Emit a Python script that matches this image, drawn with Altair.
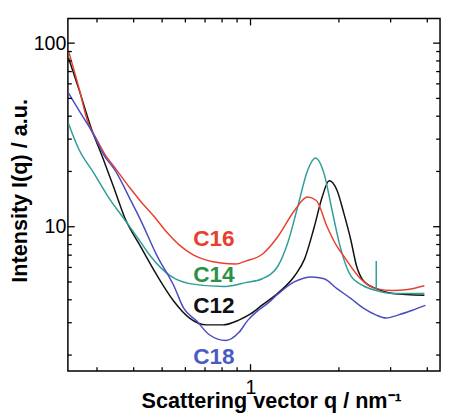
import altair as alt
import pandas as pd

# ---- data (q in nm^-1, intensity in a.u.) ----
c16_q = [0.240, 0.261, 0.279, 0.298, 0.319, 0.345, 0.387, 0.425, 0.469, 0.520, 0.574, 0.640, 0.707,
         0.794, 0.891, 0.962, 1.097, 1.240, 1.414, 1.563, 1.675, 1.823, 1.970, 2.077, 2.370, 2.680,
         3.052, 3.43, 3.91]
c16_i = [90.6, 56.2, 37.3, 30.3, 24.8, 21.0, 16.4, 13.6, 11.4, 9.29, 7.91, 7.00, 6.58,
         6.34, 6.26, 6.50, 7.08, 8.85, 12.3, 14.5, 13.9, 10.0, 7.81, 6.92, 5.21, 4.60,
         4.49, 4.55, 4.77]

c14_q = [0.240, 0.260, 0.292, 0.327, 0.373, 0.412, 0.456, 0.532, 0.620, 0.806, 0.962, 1.097, 1.240,
         1.340, 1.447, 1.563, 1.663, 1.781, 1.895, 2.031, 2.194, 2.423, 2.680, 3.052, 3.91]
c14_i = [36.4, 26.5, 19.7, 14.6, 10.9, 8.73, 6.92, 5.41, 4.90, 4.72, 4.96, 5.21, 6.11,
         8.20, 12.8, 20.2, 23.7, 19.4, 12.3, 7.53, 5.41, 4.77, 4.49, 4.33, 4.33]
spike_q = [2.68]
spike_lo = [4.49]
spike_hi = [6.50]

c12_q = [0.240, 0.261, 0.287, 0.315, 0.343, 0.373, 0.422, 0.481, 0.548, 0.620, 0.707, 0.806, 0.912,
         1.0, 1.097, 1.240, 1.414, 1.527, 1.649, 1.754, 1.852, 1.970, 2.077, 2.194, 2.297, 2.423,
         2.680, 3.052, 3.91]
c12_i = [83.1, 55.4, 34.3, 23.4, 16.2, 11.2, 7.81, 5.41, 3.93, 3.18, 2.92, 2.92, 3.10,
         3.35, 3.75, 4.35, 5.41, 6.66, 10.0, 14.5, 17.8, 15.8, 11.9, 8.52, 6.11, 5.08,
         4.60, 4.33, 4.23]

c18_q = [0.240, 0.262, 0.287, 0.319, 0.345, 0.391, 0.422, 0.481, 0.548, 0.592, 0.655, 0.724, 0.825,
         0.912, 0.980, 1.050, 1.149, 1.240, 1.414, 1.612, 1.781, 1.970, 2.194, 2.423, 2.680, 2.894,
         3.176, 3.56, 3.94]
c18_i = [53.4, 42.3, 33.4, 24.1, 20.4, 13.9, 10.9, 6.92, 4.77, 3.60, 3.07, 2.58, 2.40,
         2.65, 3.10, 3.45, 3.85, 4.30, 5.02, 5.33, 5.21, 4.60, 4.07, 3.60, 3.30, 3.18,
         3.30, 3.51, 3.73]

series_names = ["C12", "C14", "C16", "C18"]
series_colors = ["#111111", "#2f9d98", "#e8402e", "#4a4cbf"]

label_text = ["C16", "C14", "C12", "C18"]
label_q = [0.75, 0.75, 0.75, 0.75]
label_i = [7.81, 5.02, 3.38, 1.78]
label_colors = ["#e8402e", "#2b9145", "#111111", "#4a5cc4"]

x_label_ticks = [1]
x_major_ticks = [1]
x_minor_ticks = [0.3, 0.4, 0.5, 0.6, 0.7, 0.8, 0.9, 2, 3, 4]
y_label_ticks = [10, 100]
y_major_ticks = [10, 100]
y_minor_ticks = [2, 3, 4, 5, 6, 7, 8, 9, 20, 30, 40, 50, 60, 70, 80, 90]

rows = []
for name, qs, vs in [("C12", c12_q, c12_i), ("C14", c14_q, c14_i),
                     ("C16", c16_q, c16_i), ("C18", c18_q, c18_i)]:
    for k, (q, v) in enumerate(zip(qs, vs)):
        rows.append({"series": name, "q": q, "I": v, "k": k})
df = pd.DataFrame(rows)

labels_df = pd.DataFrame({"label": label_text, "q": label_q, "I": label_i, "col": label_colors})
spike_df = pd.DataFrame({"q": spike_q, "lo": spike_lo, "hi": spike_hi})

W, H = 379, 359
MAJ, MIN = 7, 4

x_scale = alt.Scale(type="log", domain=[0.2388, 4.42], nice=False)
y_scale = alt.Scale(type="log", domain=[1.636, 136.1], nice=False)

FONT = "Liberation Sans"
common = dict(domain=False, grid=False, ticks=False,
              labelFont=FONT, labelFontSize=20, labelColor="black",
              titleFont=FONT, titleFontSize=22, titleFontWeight="bold", titleColor="black")

x_axis = alt.Axis(values=x_label_ticks, orient="bottom", format="d", labelPadding=7,
                  title="Scattering vector q / nm⁻¹",
                  titleX=207, titleY=37, titleBaseline="alphabetic", **common)
y_axis = alt.Axis(values=y_label_ticks, orient="left", format="d", labelPadding=2,
                  title="Intensity I(q) / a.u.",
                  titleX=-42, titleY=175, titleBaseline="alphabetic", **common)

lines = alt.Chart(df).mark_line(strokeWidth=1.5, interpolate="monotone").encode(
    x=alt.X("q:Q", scale=x_scale, axis=x_axis),
    y=alt.Y("I:Q", scale=y_scale, axis=y_axis),
    color=alt.Color("series:N", scale=alt.Scale(domain=series_names, range=series_colors), legend=None),
    order=alt.Order("k:Q"),
)

spike = alt.Chart(spike_df).mark_rule(strokeWidth=1.5, color="#2f9d98").encode(
    x=alt.X("q:Q", scale=x_scale, axis=None),
    y=alt.Y("lo:Q", scale=y_scale, axis=None),
    y2="hi:Q",
)

texts = alt.Chart(labels_df).mark_text(font=FONT, fontSize=23, fontWeight="bold",
                                       align="center", baseline="alphabetic").encode(
    x=alt.X("q:Q", scale=x_scale, axis=None),
    y=alt.Y("I:Q", scale=y_scale, axis=None),
    text="label:N",
    color=alt.Color("col:N", scale=None),
)


def y_ticks(vals, x0, x1):
    return alt.Chart(pd.DataFrame({"v": vals})).mark_rule(color="black", strokeWidth=1.3).encode(
        y=alt.Y("v:Q", scale=y_scale, axis=None), x=alt.value(x0), x2=alt.value(x1))


def x_ticks(vals, y0, y1):
    return alt.Chart(pd.DataFrame({"v": vals})).mark_rule(color="black", strokeWidth=1.3).encode(
        x=alt.X("v:Q", scale=x_scale, axis=None), y=alt.value(y0), y2=alt.value(y1))


tick_layers = [
    y_ticks(y_major_ticks, 0, MAJ), y_ticks(y_minor_ticks, 0, MIN),
    y_ticks(y_major_ticks, W, W - MAJ), y_ticks(y_minor_ticks, W, W - MIN),
    x_ticks(x_major_ticks, H, H - MAJ), x_ticks(x_minor_ticks, H, H - MIN),
    x_ticks(x_major_ticks, 0, MAJ), x_ticks(x_minor_ticks, 0, MIN),
]

chart = alt.layer(lines, spike, texts, *tick_layers).resolve_axis(
    x="independent", y="independent"
).properties(
    width=W, height=H,
    autosize="none",
    padding={"left": 61, "top": 7, "right": 2, "bottom": 42},
).configure_view(stroke="black", strokeWidth=1.5)

chart.save("out.html", embed_options={"renderer": "svg", "actions": False})
